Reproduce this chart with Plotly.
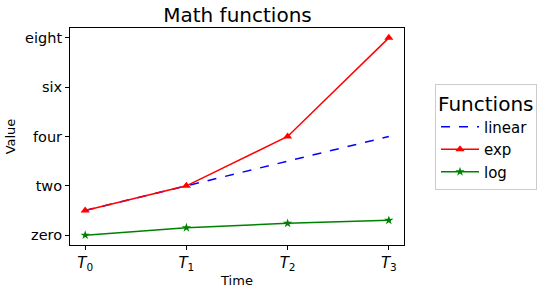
import plotly.graph_objects as go

x_vals = [0, 1, 2, 3]
x_labels = ["<i>T</i><sub>0</sub>", "<i>T</i><sub>1</sub>", "<i>T</i><sub>2</sub>", "<i>T</i><sub>3</sub>"]
linear = [1, 2, 3, 4]
exp_vals = [1, 2, 4, 8]
log_vals = [0.0, 0.30, 0.48, 0.60]
y_ticks = [0, 2, 4, 6, 8]
y_labels = ["zero", "two", "four", "six", "eight"]

font = "DejaVu Sans"
fig = go.Figure()
fig.add_trace(go.Scatter(x=x_vals, y=linear, name="linear", mode="lines",
                         line=dict(color="blue", dash="dash", width=1.5)))
fig.add_trace(go.Scatter(x=x_vals, y=exp_vals, name="exp", mode="lines+markers",
                         line=dict(color="red", width=1.5),
                         marker=dict(symbol="triangle-up", size=8, color="red")))
fig.add_trace(go.Scatter(x=x_vals, y=log_vals, name="log", mode="lines+markers",
                         line=dict(color="green", width=1.5),
                         marker=dict(symbol="star", size=7, color="green")))

axis_common = dict(showgrid=False, zeroline=False, showline=True, linecolor="black",
                   linewidth=1, mirror=True, ticks="outside", ticklen=4, tickcolor="black",
                   automargin=False)
fig.update_layout(
    width=548, height=295,
    margin=dict(l=70, r=143, t=28, b=50),
    plot_bgcolor="white", paper_bgcolor="white",
    font=dict(family=font, color="black"),
    title=dict(text="Math functions", x=(70 + 405) / 2 / 548, xanchor="center",
               y=1 - 15 / 295, yanchor="middle", font=dict(size=20)),
    xaxis=dict(range=[-0.15, 3.15], tickvals=x_vals, ticktext=x_labels,
               tickfont=dict(size=15),
               title=dict(text="Time", font=dict(size=13), standoff=3), **axis_common),
    yaxis=dict(range=[-0.4, 8.4], tickvals=y_ticks, ticktext=y_labels,
               tickfont=dict(size=14.5),
               title=dict(text="Value", font=dict(size=13), standoff=6), **axis_common),
    legend=dict(title=dict(text="Functions", font=dict(size=20)),
                font=dict(size=15), x=(435 - 70) / 335, xanchor="left", y=0.5, yanchor="middle",
                itemwidth=38,
                bordercolor="#cccccc", borderwidth=1, bgcolor="white"),
)
fig.write_html("out.html")
